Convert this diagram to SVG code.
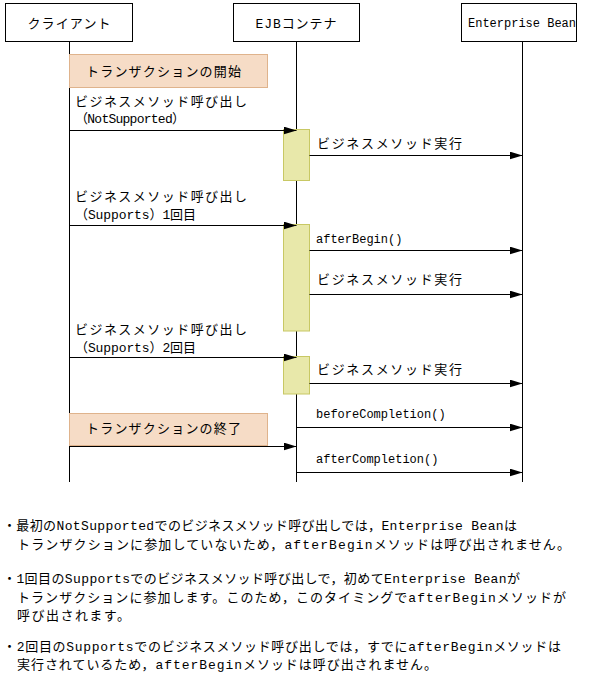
<svg xmlns="http://www.w3.org/2000/svg" width="590" height="688" viewBox="0 0 590 688">
<style>
text{font-family:"Liberation Mono","Noto Sans CJK JP",monospace;font-size:13px;fill:#000}
.lat{font-size:12px}
.hdr{fill:#fff;stroke:#000;stroke-width:1}
.life{stroke:#000;stroke-width:1;fill:none}
.tx{fill:#F6DCC6;stroke:#DFB38C;stroke-width:1}
.act{fill:#E8E8AA;stroke:#C8C864;stroke-width:1}
.msg{stroke:#000;stroke-width:1;fill:none;marker-end:url(#ah)}
.mid{text-anchor:middle}
</style>
<defs>
<marker id="ah" markerUnits="userSpaceOnUse" markerWidth="13" markerHeight="8" viewBox="0 0 13 8" refX="13" refY="4" orient="auto">
<path d="M0,0 L13,4 L0,8 z" fill="#000"/>
</marker>
</defs>
<rect width="590" height="688" fill="#fff"/>

<g id="client">
<rect class="hdr" x="5.5" y="3.5" width="127" height="38"/>
<text class="mid" x="69" y="27.5" textLength="83">クライアント</text>
<line class="life" x1="69.5" y1="41.5" x2="69.5" y2="482"/>
</g>
<g id="ejb">
<rect class="hdr" x="233.5" y="3.5" width="126" height="38"/>
<text class="mid" x="296" y="27.5" textLength="81">EJBコンテナ</text>
<line class="life" x1="296.5" y1="41.5" x2="296.5" y2="482"/>
</g>
<g id="bean">
<rect class="hdr" x="461.5" y="3.5" width="115" height="38"/>
<text class="mid lat" x="522" y="27">Enterprise Bean</text>
<line class="life" x1="522.5" y1="41.5" x2="522.5" y2="482"/>
</g>

<g id="tx-start">
<rect class="tx" x="69.5" y="54.5" width="198" height="33"/>
<text x="86" y="76" textLength="155">トランザクションの開始</text>
</g>
<g id="tx-end">
<rect class="tx" x="69.5" y="413.5" width="198" height="32"/>
<text x="86" y="433" textLength="155">トランザクションの終了</text>
</g>

<g id="act1"><rect class="act" x="283.5" y="129.5" width="26" height="51"/></g>
<g id="act2"><rect class="act" x="283.5" y="224.5" width="26" height="106.5"/></g>
<g id="act3"><rect class="act" x="283.5" y="356.5" width="26" height="37.5"/></g>

<g id="connectors">
<line class="msg" x1="69.5" y1="130.5" x2="296.5" y2="130.5"/>
<line class="msg" x1="309.5" y1="155.5" x2="522.5" y2="155.5"/>
<line class="msg" x1="69.5" y1="225.5" x2="296.5" y2="225.5"/>
<line class="msg" x1="309.5" y1="250.5" x2="522.5" y2="250.5"/>
<line class="msg" x1="309.5" y1="294.5" x2="522.5" y2="294.5"/>
<line class="msg" x1="69.5" y1="357.5" x2="296.5" y2="357.5"/>
<line class="msg" x1="309.5" y1="383.5" x2="522.5" y2="383.5"/>
<line class="msg" x1="296.5" y1="427.5" x2="522.5" y2="427.5"/>
<line class="msg" x1="69.5" y1="446.5" x2="296.5" y2="446.5"/>
<line class="msg" x1="296.5" y1="472.5" x2="522.5" y2="472.5"/>
</g>

<g id="labels">
<text x="75" y="106" textLength="172">ビジネスメソッド呼び出し</text>
<text x="75" y="123" textLength="110">（NotSupported）</text>
<text x="317" y="147.5" textLength="145">ビジネスメソッド実行</text>
<text x="75" y="201" textLength="172">ビジネスメソッド呼び出し</text>
<text x="75" y="219" textLength="121">（Supports）1回目</text>
<text class="lat" x="316" y="243">afterBegin()</text>
<text x="317" y="284" textLength="145">ビジネスメソッド実行</text>
<text x="75" y="334" textLength="172">ビジネスメソッド呼び出し</text>
<text x="75" y="352" textLength="121">（Supports）2回目</text>
<text x="317" y="374" textLength="145">ビジネスメソッド実行</text>
<text class="lat" x="316" y="418">beforeCompletion()</text>
<text class="lat" x="316" y="463">afterCompletion()</text>
</g>

<g id="notes">
<text x="3" y="530" textLength="514">・最初のNotSupportedでのビジネスメソッド呼び出しでは，Enterprise Beanは</text>
<text x="17" y="549" textLength="553">トランザクションに参加していないため，afterBeginメソッドは呼び出されません。</text>
<text x="3" y="583" textLength="517">・1回目のSupportsでのビジネスメソッド呼び出しで，初めてEnterprise Beanが</text>
<text x="17" y="602" textLength="549">トランザクションに参加します。このため，このタイミングでafterBeginメソッドが</text>
<text x="17" y="620" textLength="113">呼び出されます。</text>
<text x="3" y="651" textLength="558">・2回目のSupportsでのビジネスメソッド呼び出しでは，すでにafterBeginメソッドは</text>
<text x="17" y="669" textLength="420">実行されているため，afterBeginメソッドは呼び出されません。</text>
</g>
</svg>
